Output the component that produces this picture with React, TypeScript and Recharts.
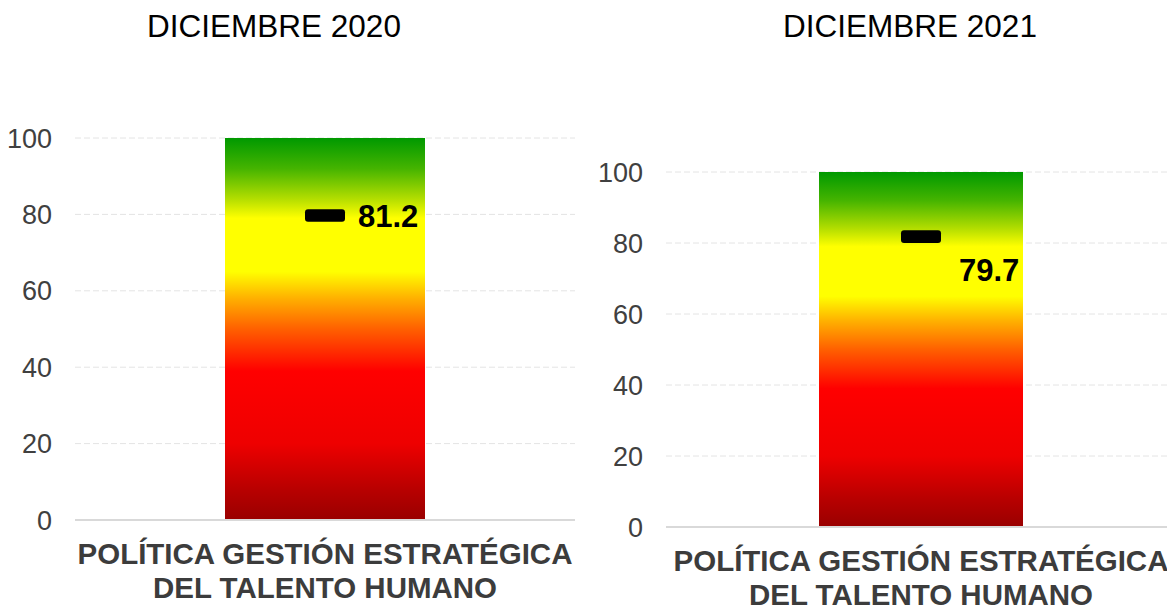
import React from "react";
import {
  ComposedChart,
  Bar,
  Line,
  XAxis,
  YAxis,
  CartesianGrid,
  LabelList,
} from "recharts";

// ---- data ----
const titles = ["DICIEMBRE 2020", "DICIEMBRE 2021"];
const categoryLines = ["POLÍTICA GESTIÓN ESTRATÉGICA", "DEL TALENTO HUMANO"];
const scaleTop = [100, 100];
const resultLabels = [81.2, 79.7];
const markerLevels = [79.7, 81.8];
const yTicks = [0, 20, 40, 60, 80, 100];

const gradientStops = [
  { offset: "0%", color: "#009900" },
  { offset: "8%", color: "#45b400" },
  { offset: "16%", color: "#b4de00" },
  { offset: "21%", color: "#ffff00" },
  { offset: "35%", color: "#ffff00" },
  { offset: "42%", color: "#ffb000" },
  { offset: "50%", color: "#ff6000" },
  { offset: "61%", color: "#ff0000" },
  { offset: "80%", color: "#ee0000" },
  { offset: "92%", color: "#b80000" },
  { offset: "100%", color: "#990000" },
];

const FONT = "'Liberation Sans', Arial, Helvetica, sans-serif";

type PanelCfg = {
  left: number;
  width: number;
  margin: { top: number; right: number; bottom: number; left: number };
  yAxisWidth: number;
  barSize: number;
  labelDx: number;
  labelDy: number;
  titleX: number;
};

const X_AXIS_H = 30;

const panels: PanelCfg[] = [
  {
    left: 0,
    width: 590,
    margin: { top: 138, right: 15, bottom: 86 - X_AXIS_H, left: 0 },
    yAxisWidth: 75,
    barSize: 200,
    labelDx: 33,
    labelDy: 11,
    titleX: 274,
  },
  {
    left: 590,
    width: 590,
    margin: { top: 172, right: 4, bottom: 79 - X_AXIS_H, left: 0 },
    yAxisWidth: 76,
    barSize: 204,
    labelDx: 38,
    labelDy: 44,
    titleX: 910,
  },
];

const CategoryTick = (props: any) => {
  const { x, y } = props;
  return (
    <g>
      {categoryLines.map((line, i) => (
        <text
          key={i}
          x={x}
          y={y + 44 + i * 33.5}
          textAnchor="middle"
          fontFamily={FONT}
          fontSize={29.5}
          fontWeight="bold"
          fill="#3c3c3c"
        >
          {line}
        </text>
      ))}
    </g>
  );
};

const MarkerDot = (props: any) => {
  const { cx, cy } = props;
  if (cx == null || cy == null) return <g />;
  return <rect x={cx - 20} y={cy - 6.3} width={40} height={12.6} rx={3} ry={3} fill="#000" />;
};

function Panel({ idx }: { idx: number }) {
  const cfg = panels[idx];
  const data = [
    {
      category: categoryLines.join(" "),
      scale: scaleTop[idx],
      marker: markerLevels[idx],
      result: resultLabels[idx],
    },
  ];
  const gid = `grad${idx}`;
  const ResultLabel = (p: any) => {
    const { x, y, value } = p;
    return (
      <text
        x={x + cfg.labelDx}
        y={y + cfg.labelDy}
        textAnchor="start"
        fontFamily={FONT}
        fontSize={31}
        fontWeight="bold"
        fill="#000"
      >
        {value}
      </text>
    );
  };
  return (
    <div style={{ position: "absolute", left: cfg.left, top: 0 }}>
      <ComposedChart width={cfg.width} height={606} data={data} margin={cfg.margin}>
        <defs>
          <linearGradient id={gid} x1="0" y1="0" x2="0" y2="1">
            {gradientStops.map((s, i) => (
              <stop key={i} offset={s.offset} stopColor={s.color} />
            ))}
          </linearGradient>
        </defs>
        <CartesianGrid vertical={false} stroke="#e4e4e4" strokeDasharray="6 3" />
        <XAxis
          dataKey="category"
          height={X_AXIS_H}
          axisLine={{ stroke: "#d9d9d9", strokeWidth: 2 }}
          tickLine={false}
          tickSize={0}
          tickMargin={0}
          tick={<CategoryTick />}
          interval={0}
        />
        <YAxis
          domain={[0, 100]}
          ticks={yTicks}
          width={cfg.yAxisWidth}
          axisLine={false}
          tickLine={false}
          tickSize={0}
          tickMargin={23}
          tick={{ fontFamily: FONT, fontSize: 27, fill: "#404040" }}
        />
        <Bar dataKey="scale" fill={`url(#${gid})`} barSize={cfg.barSize} isAnimationActive={false} />
        <Line
          dataKey="marker"
          stroke="none"
          dot={<MarkerDot />}
          activeDot={false}
          isAnimationActive={false}
        >
          <LabelList dataKey="result" content={<ResultLabel />} />
        </Line>
      </ComposedChart>
    </div>
  );
}

export default function App() {
  return (
    <div
      style={{
        position: "absolute",
        left: 0,
        top: 0,
        width: 1167,
        height: 606,
        overflow: "hidden",
        background: "#fff",
      }}
    >
      <Panel idx={0} />
      <Panel idx={1} />
      <svg
        width={1167}
        height={60}
        style={{ position: "absolute", left: 0, top: 0, pointerEvents: "none" }}
      >
        {titles.map((t, i) => (
          <text
            key={i}
            x={panels[i].titleX}
            y={36.7}
            textAnchor="middle"
            fontFamily={FONT}
            fontSize={31.5}
            fill="#000"
          >
            {t}
          </text>
        ))}
      </svg>
    </div>
  );
}
